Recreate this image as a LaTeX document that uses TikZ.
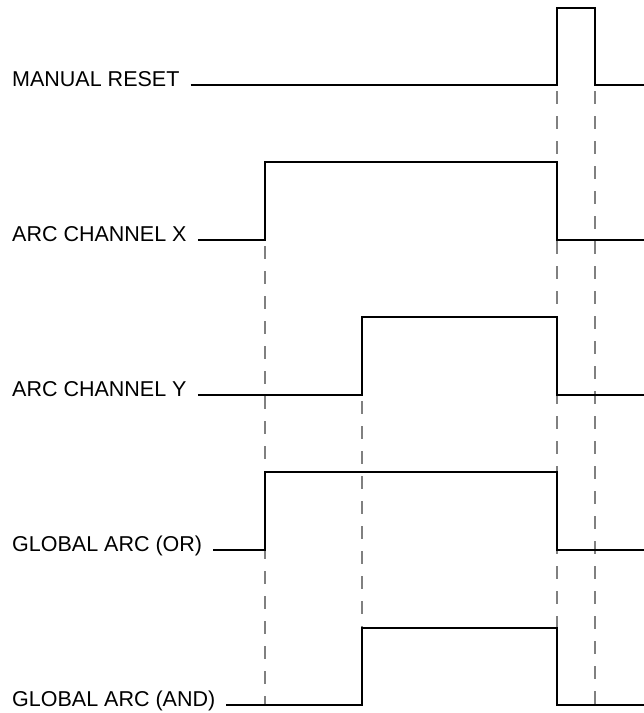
\documentclass[tikz,border=0pt]{standalone}
\usepackage{fontspec}
\setmainfont{Liberation Sans}
\usetikzlibrary{calc}
\begin{document}
\begin{tikzpicture}[x=1pt,y=-1pt,
  lbl/.style={anchor=base west,inner sep=0pt,font=\fontsize{21.5}{25}\selectfont},
  sig/.style={line width=1.6pt,line join=miter,black},
  guide/.style={draw=black!50,line width=1.1pt,dash pattern=on 13pt off 12pt,dash phase=-6pt}]
\useasboundingbox (0,0) rectangle (644,713);
% labels
\node[lbl] (lr) at (12,86.5) {MANUAL RESET};
\node[lbl] (lx) at (12,241.5) {ARC CHANNEL X};
\node[lbl] (ly) at (12,396.5) {ARC CHANNEL Y};
\node[lbl] (lo) at (12,551.5) {GLOBAL ARC (OR)};
\node[lbl] (la) at (12,706.5) {GLOBAL ARC (AND)};
% line starts
\coordinate (sr) at ($(lr.base east)+(11pt,1.5pt)$);
\coordinate (sx) at ($(lx.base east)+(11pt,1.5pt)$);
\coordinate (sy) at ($(ly.base east)+(11pt,1.5pt)$);
\coordinate (so) at ($(lo.base east)+(11pt,1.5pt)$);
\coordinate (sa) at ($(la.base east)+(11pt,1.5pt)$);
% dashed guides
\coordinate (g1a) at (265,240); \coordinate (g1b) at (265,705);
\coordinate (g2a) at (362,395); \coordinate (g2b) at (362,705);
\coordinate (g3a) at (557,85);  \coordinate (g3b) at (557,705);
\coordinate (g4a) at (595,85);  \coordinate (g4b) at (595,705);
\draw[guide] (g1a) -- (g1b);
\draw[guide] (g2a) -- (g2b);
\draw[guide] (g3a) -- (g3b);
\draw[guide] (g4a) -- (g4b);
% signals
\draw[sig] (sr) -- (557,85) -- (557,8) -- (595,8) -- (595,85) -- (644,85);
\draw[sig] (sx) -- (265,240) -- (265,162) -- (557,162) -- (557,240) -- (644,240);
\draw[sig] (sy) -- (362,395) -- (362,317) -- (557,317) -- (557,395) -- (644,395);
\draw[sig] (so) -- (265,550) -- (265,472) -- (557,472) -- (557,550) -- (644,550);
\draw[sig] (sa) -- (362,705) -- (362,628) -- (557,628) -- (557,705) -- (644,705);
\end{tikzpicture}
\end{document}
